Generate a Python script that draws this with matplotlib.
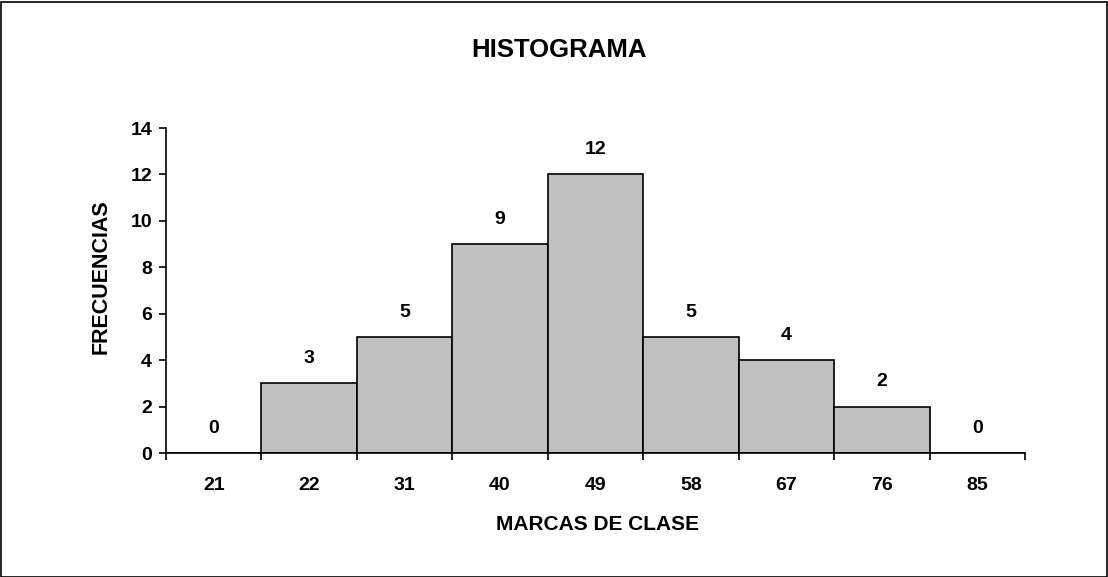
import matplotlib
matplotlib.use("Agg")
import matplotlib.pyplot as plt
from matplotlib.patches import Rectangle

categories = ["21", "22", "31", "40", "49", "58", "67", "76", "85"]
frequencies = [0, 3, 5, 9, 12, 5, 4, 2, 0]
y_ticks = [0, 2, 4, 6, 8, 10, 12, 14]

plt.rcParams['font.family'] = ['Liberation Sans', 'DejaVu Sans']
plt.rcParams['font.weight'] = 'bold'

W, H = 1108, 577
fig = plt.figure(figsize=(W / 100, H / 100), dpi=100)
ax = fig.add_axes([166 / W, 1 - 453 / H, (1025 - 166) / W, (453 - 128) / H])

x = list(range(len(categories)))
ax.bar(x, frequencies, width=1.0, color="#C0C0C0", edgecolor="black", linewidth=1.2)
for xi, v in zip(x, frequencies):
    ax.text(xi, v + 0.7, str(v), ha="center", va="bottom", fontsize=14, fontweight="bold")

ax.set_xlim(-0.5, len(categories) - 0.5)
ax.set_ylim(0, 14)
ax.set_yticks(y_ticks)
ax.set_yticklabels([str(t) for t in y_ticks], fontsize=14, fontweight="bold")
ax.set_xticks([i - 0.5 for i in range(len(categories) + 1)])
ax.set_xticklabels([])
ax.set_xticks(x, minor=True)
ax.set_xticklabels(categories, minor=True, fontsize=14, fontweight="bold")
ax.tick_params(axis="x", which="minor", length=0, pad=17)
ax.tick_params(axis="x", which="major", length=5, width=1.2, direction="out")
ax.tick_params(axis="y", length=5, width=1.2, direction="out", pad=5)
for s in ["top", "right"]:
    ax.spines[s].set_visible(False)
for s in ["left", "bottom"]:
    ax.spines[s].set_linewidth(1.2)

fig.text(559 / W, 1 - 50 / H, "HISTOGRAMA", ha="center", va="center", fontsize=18.5, fontweight="bold")
fig.text(597 / W, 1 - 524 / H, "MARCAS DE CLASE", ha="center", va="center", fontsize=15, fontweight="bold")
fig.text(101 / W, 1 - 277 / H, "FRECUENCIAS", ha="center", va="center", rotation=90, fontsize=15.5, fontweight="bold")

fig.patches.append(Rectangle((0.5 / W, 0.5 / H), (W - 2) / W, (H - 2) / H, transform=fig.transFigure,
                             fill=False, edgecolor="black", linewidth=1.2))

fig.savefig("out.png", dpi=100)
